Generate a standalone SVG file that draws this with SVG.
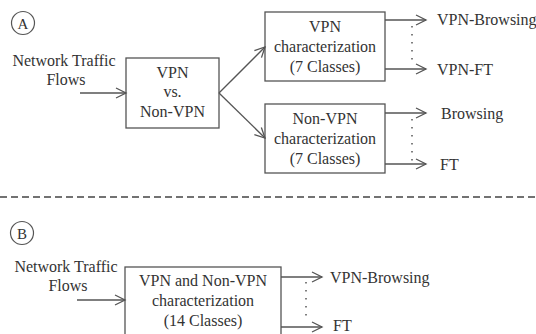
<svg xmlns="http://www.w3.org/2000/svg" width="536" height="334" viewBox="0 0 536 334">
<style>
text{font-family:"Liberation Serif","Times New Roman",serif;font-size:16px;fill:#333}
.c{text-anchor:middle}
.box{fill:#fff;stroke:#555;stroke-width:1.3}
.ln{fill:none;stroke:#555;stroke-width:1.3}
.dot{fill:none;stroke:#555;stroke-width:1.5;stroke-dasharray:1.5 6.5}
.dash{fill:none;stroke:#444;stroke-width:1.6;stroke-dasharray:7 4}
</style>
<defs>
<marker id="ah" markerUnits="userSpaceOnUse" markerWidth="12" markerHeight="12" refX="10" refY="5" orient="auto" overflow="visible">
<path d="M0,0 L10,5 L0,10" fill="none" stroke="#555" stroke-width="1.3"/>
</marker>
</defs>
<rect width="536" height="334" fill="#fff"/>
<g id="labelA">
<circle cx="23" cy="23" r="11.5" fill="none" stroke="#555" stroke-width="1.2"/>
<text class="c" x="23" y="28.5" style="font-size:15px">A</text>
</g>
<g id="inputA">
<text class="c" x="64" y="66">Network Traffic</text>
<text class="c" x="66" y="85">Flows</text>
</g>
<g id="vpnvs">
<rect class="box" x="126" y="58" width="93" height="70"/>
<text class="c" x="172.5" y="78">VPN</text>
<text class="c" x="172.5" y="97">vs.</text>
<text class="c" x="172.5" y="117">Non-VPN</text>
</g>
<g id="vpnchar">
<rect class="box" x="265" y="12" width="120" height="69"/>
<text class="c" x="325" y="32">VPN</text>
<text class="c" x="325" y="52">characterization</text>
<text class="c" x="325" y="72">(7 Classes)</text>
</g>
<g id="nonvpnchar">
<rect class="box" x="265" y="104" width="120" height="69"/>
<text class="c" x="325" y="124">Non-VPN</text>
<text class="c" x="325" y="144">characterization</text>
<text class="c" x="325" y="164">(7 Classes)</text>
</g>
<g id="outA">
<text x="437" y="25">VPN-Browsing</text>
<text x="437" y="75">VPN-FT</text>
<text x="441" y="119">Browsing</text>
<text x="440" y="170">FT</text>
</g>
<g id="labelB">
<circle cx="22" cy="233" r="11.5" fill="none" stroke="#555" stroke-width="1.2"/>
<text class="c" x="22" y="238.5" style="font-size:15px">B</text>
</g>
<g id="inputB">
<text class="c" x="66" y="272">Network Traffic</text>
<text class="c" x="68" y="291">Flows</text>
</g>
<g id="combined">
<rect class="box" x="125" y="267" width="156" height="75"/>
<text class="c" x="203" y="286">VPN and Non-VPN</text>
<text class="c" x="203" y="306">characterization</text>
<text class="c" x="203" y="326">(14 Classes)</text>
</g>
<g id="outB">
<text x="330" y="283">VPN-Browsing</text>
<text x="333" y="331">FT</text>
</g>
<g id="connectors">
<line class="ln" x1="80" y1="93" x2="126" y2="93" marker-end="url(#ah)"/>
<line class="ln" x1="219" y1="93" x2="265" y2="47" marker-end="url(#ah)"/>
<line class="ln" x1="219" y1="93" x2="265" y2="138" marker-end="url(#ah)"/>
<line class="ln" x1="385" y1="20" x2="426" y2="20" marker-end="url(#ah)"/>
<line class="ln" x1="385" y1="69" x2="426" y2="69" marker-end="url(#ah)"/>
<line class="ln" x1="385" y1="113" x2="426" y2="113" marker-end="url(#ah)"/>
<line class="ln" x1="385" y1="164" x2="426" y2="164" marker-end="url(#ah)"/>
<line class="dot" x1="412" y1="26" x2="412" y2="66"/>
<line class="dot" x1="412" y1="119" x2="412" y2="161"/>
<line class="dash" x1="0" y1="197" x2="536" y2="197"/>
<line class="ln" x1="77" y1="300" x2="125" y2="300" marker-end="url(#ah)"/>
<line class="ln" x1="281" y1="277" x2="322" y2="277" marker-end="url(#ah)"/>
<line class="ln" x1="281" y1="327" x2="322" y2="327" marker-end="url(#ah)"/>
<line class="dot" x1="306" y1="282" x2="306" y2="322"/>
</g>
</svg>
